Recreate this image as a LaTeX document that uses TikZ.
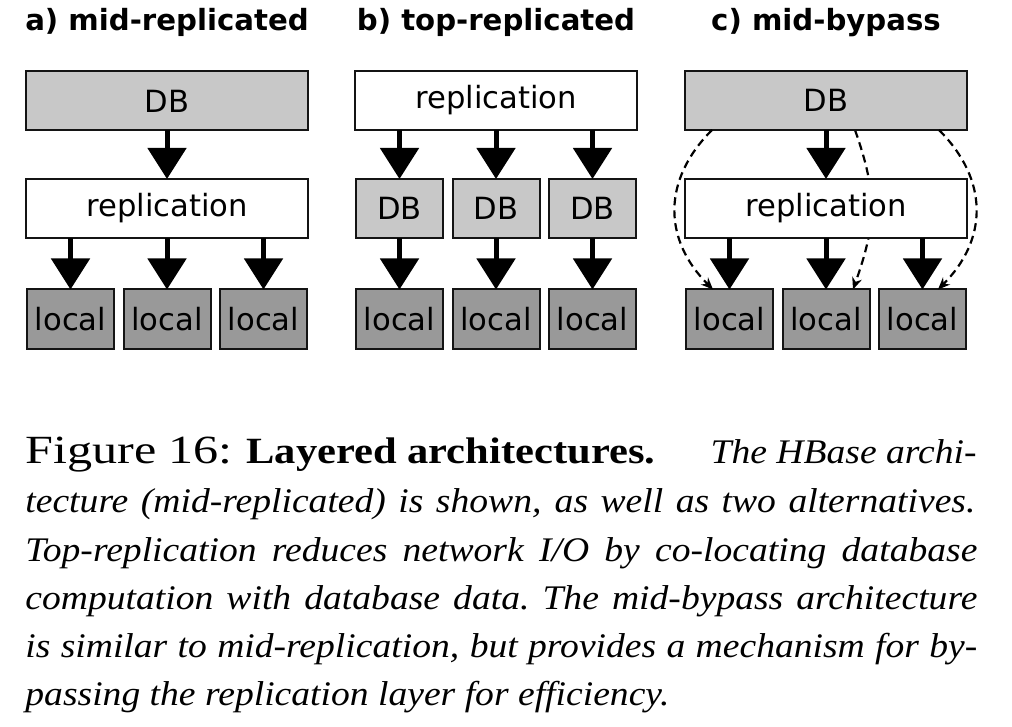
\documentclass[tikz,border=0pt]{standalone}
\usepackage{fontspec}
\setmainfont{Liberation Serif}[FakeStretch=1.09]
\newfontfamily\dejavu{DejaVu Sans}
\usetikzlibrary{arrows.meta,backgrounds}
\definecolor{dbgray}{RGB}{200,200,200}
\definecolor{locgray}{RGB}{153,153,153}
\definecolor{edge}{RGB}{20,20,20}
\begin{document}
\begin{tikzpicture}[x=0.5pt,y=-0.5pt,
  box/.style={draw=edge,line width=1pt,inner sep=0pt,outer sep=0pt,font=\dejavu\fontsize{15.3pt}{18pt}\selectfont,text=black},
  wide/.style={box,minimum width=141pt,minimum height=29.5pt},
  small/.style={box,minimum width=43.5pt,minimum height=29.5pt},
  dbfill/.style={fill=dbgray},
  locfill/.style={fill=locgray},
  repfill/.style={fill=white},
  title/.style={font=\dejavu\bfseries\fontsize{14.6pt}{17pt}\selectfont,anchor=base,inner sep=0pt},
  bigarrow/.style={line width=2.5pt,-{Triangle[width=19pt,length=15.5pt]}},
  dasharrow/.style={line width=1.1pt,dash pattern=on 4pt off 2.5pt,-{Stealth[length=6pt,width=5pt]}},
  capline/.style={anchor=base west,inner sep=0pt,font=\fontsize{17.25pt}{20pt}\selectfont}
]
\useasboundingbox (0,0) rectangle (1012,727);
% titles
\node[title] (ta) at (167,31) {a) mid-replicated};
\node[title] (tb) at (496,31) {b) top-replicated};
\node[title] (tc) at (826,31) {c) mid-bypass};
% panel a
\node[wide,dbfill] (dbA) at (167,101) {DB};
\node[wide,repfill] (repA) at (167,208.5) {replication};
\node[small,locfill] (lA1) at (70.5,319) {local};
\node[small,locfill] (lA2) at (167,319) {local};
\node[small,locfill] (lA3) at (263.5,319) {local};
\draw[bigarrow] (dbA.south) -- (repA.north);
\foreach \n in {lA1,lA2,lA3} \draw[bigarrow] (repA.south -| \n) -- (\n.north);
% panel b
\node[wide,repfill] (repB) at (496,100.5) {replication};
\node[small,dbfill] (dB1) at (399.5,208.5) {DB};
\node[small,dbfill] (dB2) at (496,208.5) {DB};
\node[small,dbfill] (dB3) at (592.5,208.5) {DB};
\node[small,locfill] (lB1) at (399.5,319) {local};
\node[small,locfill] (lB2) at (496,319) {local};
\node[small,locfill] (lB3) at (592.5,319) {local};
\foreach \n in {dB1,dB2,dB3} \draw[bigarrow] (repB.south -| \n) -- (\n.north);
\draw[bigarrow] (dB1.south) -- (lB1.north);
\draw[bigarrow] (dB2.south) -- (lB2.north);
\draw[bigarrow] (dB3.south) -- (lB3.north);
% panel c
\node[wide,dbfill] (dbC) at (826,100.5) {DB};
\node[wide,repfill] (repC) at (826,208.5) {replication};
\node[small,locfill] (lC1) at (729.5,319) {local};
\node[small,locfill] (lC2) at (826,319) {local};
\node[small,locfill] (lC3) at (922.5,319) {local};
\draw[bigarrow] (dbC.south) -- (repC.north);
\foreach \n in {lC1,lC2,lC3} \draw[bigarrow] (repC.south -| \n) -- (\n.north);
\draw[dasharrow] ([xshift=-57pt]dbC.south) .. controls +(-50,50) and +(-50,-50) .. ([xshift=-8.25pt]lC1.north);
\draw[dasharrow] ([xshift=56.5pt]dbC.south) .. controls +(50,50) and +(50,-50) .. ([xshift=7.75pt]lC3.north);
\begin{pgfonlayer}{background}
\draw[dasharrow] ([xshift=14.5pt]dbC.south) .. controls +(23,65) and +(23,-65) .. ([xshift=13.5pt]lC2.north);
\end{pgfonlayer}
% caption
\node[capline] (c1a) at (25,463) {\fontsize{20pt}{22pt}\selectfont\scalebox{1.15}[1]{Figure 16:}};
\node[capline] (c1b) at (246,463) {\fontsize{18.5pt}{22pt}\selectfont\scalebox{1.055}[1]{\bfseries Layered architectures.}};
\node[capline,anchor=base east] (c1c) at (977,463) {\itshape The HBase archi-};
\node[capline] (c2) at (25,512) {\makebox[475pt][s]{\itshape tecture (mid-replicated) is shown, as well as two alternatives.}};
\node[capline] (c3) at (25,561) {\makebox[476pt][s]{\itshape Top-replication reduces network I/O by co-locating database}};
\node[capline] (c4) at (25,609) {\makebox[476pt][s]{\itshape computation with database data.\ The mid-bypass architecture}};
\node[capline] (c5) at (25,657) {\makebox[476pt][s]{\itshape is similar to mid-replication, but provides a mechanism for by-}};
\node[capline] (c6) at (25,705) {\itshape passing the replication layer for efficiency.};
\end{tikzpicture}
\end{document}
